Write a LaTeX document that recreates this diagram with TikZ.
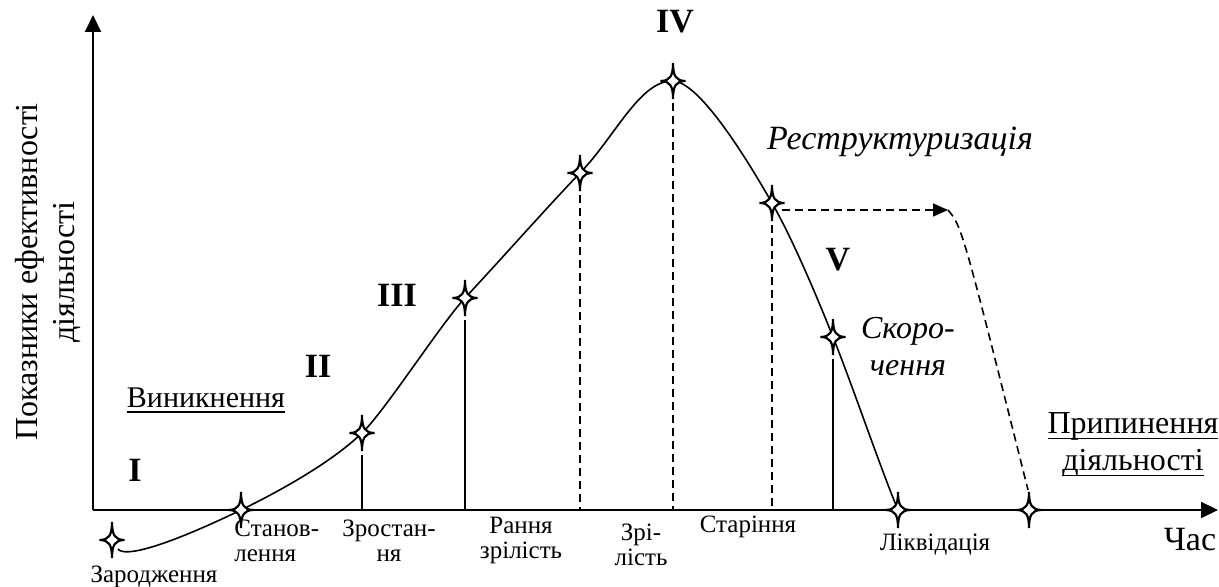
\documentclass[tikz,border=0pt]{standalone}
\usepackage{fontspec}
\setmainfont{Liberation Serif}
\usetikzlibrary{arrows.meta}

\newsavebox{\undlbox}
\newcommand{\undl}[1]{\sbox{\undlbox}{#1}\leavevmode\rlap{\rule[-2.8pt]{\wd\undlbox}{0.8pt}}\usebox{\undlbox}}

\tikzset{
  axis/.style={line width=1pt, -{Triangle[length=8.5pt,width=8pt]}},
  curve/.style={line width=0.8pt},
  drop/.style={line width=0.8pt},
  dropdash/.style={line width=0.8pt, dash pattern=on 4pt off 2.5pt},
  big/.style={font=\fontsize{16}{18.5}\selectfont, inner sep=0pt, align=center},
  small/.style={font=\fontsize{12.5}{12.5}\selectfont, inner sep=0pt, align=center},
  stage/.style={font=\fontsize{17}{18}\selectfont\bfseries, inner sep=0pt},
  spark/.pic={
    \draw[line width=1.1pt, fill=white]
      (0,18) .. controls (0,5) and (-3,0) .. (-12.5,0)
      .. controls (-3,0) and (0,-5) .. (0,-18)
      .. controls (0,-5) and (3,0) .. (12.5,0)
      .. controls (3,0) and (0,5) .. cycle;
  }
}

\begin{document}
\begin{tikzpicture}[x=0.5pt, y=0.5pt]
\useasboundingbox (0,0) rectangle (1219,587);

% axes
\coordinate (o) at (93,77);
\coordinate (ytop) at (93,572);
\coordinate (xend) at (1218,77);
\draw[axis] (o) -- (ytop);
\draw[axis] (o) -- (xend);

% stage points
\coordinate (zar) at (112,47);
\coordinate (stan) at (241,77);
\coordinate (zros) at (362,154);
\coordinate (rann) at (465,289);
\coordinate (zril) at (580,414);
\coordinate (peak) at (673,506);
\coordinate (star) at (772,384);
\coordinate (skor) at (833,250);
\coordinate (likv) at (898,77);
\coordinate (prip) at (1029,77);
\coordinate (turn) at (948,377);

% life curve
\draw[curve] (118,38) .. controls (124,30) and (160,38) .. (stan)
  .. controls (290,101) and (335,128) .. (zros)
  .. controls (385,176) and (440,262) .. (rann)
  .. controls (505,332) and (550,383) .. (zril)
  .. controls (615,450) and (640,507) .. (peak)
  .. controls (700,505) and (748,426) .. (star)
  .. controls (792,349) and (815,295) .. (skor)
  .. controls (853,200) and (880,120) .. (likv);

% drop lines
\draw[drop] (zros) ++(0,-22) -- (zros |- o);
\draw[drop] (rann) ++(0,-22) -- (rann |- o);
\draw[dropdash] (zril) ++(0,-22) -- (zril |- o);
\draw[dropdash] (peak) ++(0,-22) -- (peak |- o);
\draw[dropdash] (star) ++(0,-22) -- (star |- o);
\draw[drop] (skor) ++(0,-22) -- (skor |- o);

% restructuring branch
\draw[dropdash, -{Triangle[length=7.5pt,width=6.5pt]}] (star) ++(10,-7) -- (turn);
\draw[dropdash] (turn) .. controls (962,360) .. (1028,97);

% marks
\pic (mzar) at (zar) {spark};
\pic (mstan) at (stan) {spark};
\pic (mzros) at (zros) {spark};
\pic (mrann) at (rann) {spark};
\pic (mzril) at (zril) {spark};
\pic (mpeak) at (peak) {spark};
\pic (mstar) at (star) {spark};
\pic (mskor) at (skor) {spark};
\pic (mlikv) at (likv) {spark};
\pic (mprip) at (prip) {spark};

% stage numbers
\node[stage] (s1) at (135,117) {I};
\node[stage] (s2) at (318,221) {II};
\node[stage] (s3) at (397,292) {III};
\node[stage] (s4) at (675,565) {IV};
\node[stage] (s5) at (838,327) {V};

% phase texts
\node[big, font=\fontsize{15}{18}\selectfont] (vyn) at (206,187) {\undl{Виникнення}};
\node[big, font=\fontsize{17}{18}\selectfont] (restr) at (900,445) {\itshape Реструктуризація};
\node[big] (skr) at (908,240) {\itshape Скоро-\\\itshape чення};
\node[big] (pryp) at (1133,142) {\undl{Припинення}\\\undl{діяльності}};
\node[big, font=\fontsize{17}{18}\selectfont] (chas) at (1190,47) {Час};
\node[big, rotate=90] (ylab) at (48,315) {Показники ефективності\\діяльності};

% time labels
\node[small] (lzar) at (154,10) {Зародження};
\node[small, anchor=west, align=left] (lstan) at (234,46) {Станов-\\лення};
\node[small] (lzros) at (389,46) {Зростан-\\ня};
\node[small] (lrann) at (521,47) {Рання\\зрілість};
\node[small] (lzril) at (641,42) {Зрі-\\лість};
\node[small] (lstar) at (748,60) {Старіння};
\node[small] (llikv) at (935,42) {Ліквідація};
\end{tikzpicture}
\end{document}
